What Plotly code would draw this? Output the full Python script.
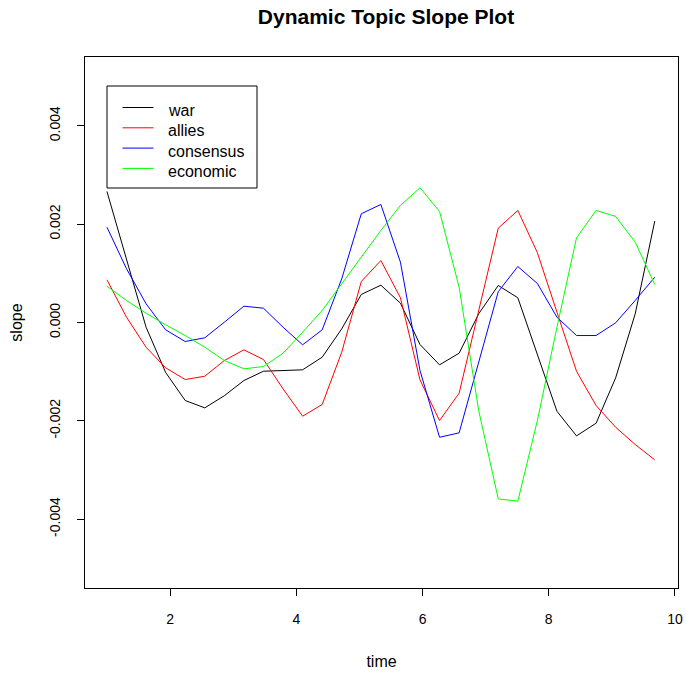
import plotly.graph_objects as go

time = [1.00, 1.31, 1.62, 1.93, 2.24, 2.55, 2.86, 3.17, 3.48, 3.79,
        4.10, 4.41, 4.72, 5.03, 5.34, 5.65, 5.96, 6.27, 6.58, 6.89,
        7.20, 7.51, 7.82, 8.13, 8.44, 8.75, 9.06, 9.37, 9.68]

war = [0.002665, 0.001302, -0.000096, -0.001017, -0.001587, -0.001736, -0.001489, -0.001180, -0.000991, -0.000977,
       -0.000962, -0.000706, -0.000129, 0.000570, 0.000759, 0.000393, -0.000448, -0.000861, -0.000624, 0.000177,
       0.000753, 0.000503, -0.000651, -0.001805, -0.002306, -0.002049, -0.001126, 0.000177, 0.002062]

allies = [0.000869, 0.000108, -0.000503, -0.000922, -0.001160, -0.001093, -0.000773, -0.000556, -0.000753, -0.001349,
          -0.001906, -0.001668, -0.000604, 0.000834, 0.001261, 0.000503, -0.001166, -0.001994, -0.001438, 0.000244,
          0.001919, 0.002279, 0.001420, 0.000210, -0.000991, -0.001689, -0.002130, -0.002482, -0.002794]

consensus = [0.001939, 0.001093, 0.000380, -0.000149, -0.000387, -0.000311, 0.000006, 0.000332, 0.000291, -0.000096,
             -0.000454, -0.000149, 0.000889, 0.002212, 0.002401, 0.001227, -0.000977, -0.002334, -0.002244, -0.000820,
             0.000627, 0.001139, 0.000793, 0.000108, -0.000265, -0.000265, -0.000006, 0.000448, 0.000922]

economic = [0.000739, 0.000448, 0.000189, -0.000047, -0.000265, -0.000503, -0.000773, -0.000942, -0.000895, -0.000624,
            -0.000197, 0.000244, 0.000787, 0.001329, 0.001872, 0.002381, 0.002740, 0.002258, 0.000718, -0.001790,
            -0.003587, -0.003635, -0.001994, -0.000096, 0.001723, 0.002279, 0.002157, 0.001634, 0.000773]

series_names = ["war", "allies", "consensus", "economic"]
series_values = [war, allies, consensus, economic]
series_colors = ["#000000", "#FF0000", "#0000FF", "#00FF00"]

x_ticks = [2, 4, 6, 8, 10]
y_ticks = [-0.004, -0.002, 0.0, 0.002, 0.004]
y_tick_labels = ["-0.004", "-0.002", "0.000", "0.002", "0.004"]

FONT = "Liberation Sans, Arial, sans-serif"

W, H = 686, 673
L, R, T, B = 85, 8, 57, 85
PW, PH = W - L - R, H - T - B


def px_x(px):
    return (px - L) / PW


def px_y(py):
    return (H - B - py) / PH


fig = go.Figure()
for name, vals, col in zip(series_names, series_values, series_colors):
    fig.add_trace(go.Scatter(x=time, y=vals, mode="lines", name=name,
                             line=dict(color=col, width=1), showlegend=False,
                             hoverinfo="skip"))

# legend box (R-style) drawn in paper coordinates
shapes = [dict(type="rect", xref="paper", yref="paper",
               x0=px_x(107), x1=px_x(257), y0=px_y(188), y1=px_y(86),
               line=dict(color="black", width=1), fillcolor="white", layer="above")]
annotations = []
for i, (name, col) in enumerate(zip(series_names, series_colors)):
    ry = 107.5 + 20.3 * i
    shapes.append(dict(type="line", xref="paper", yref="paper",
                       x0=px_x(122.5), x1=px_x(153.5), y0=px_y(ry), y1=px_y(ry),
                       line=dict(color=col, width=1), layer="above"))
    annotations.append(dict(text=name, xref="paper", yref="paper",
                            x=px_x(166), y=px_y(ry + 3), xanchor="left", yanchor="middle",
                            showarrow=False, font=dict(family=FONT, size=16, color="black")))

fig.update_layout(
    width=W, height=H,
    margin=dict(l=L, r=R, t=T, b=B, autoexpand=False),
    paper_bgcolor="white", plot_bgcolor="white",
    font=dict(family=FONT, size=14, color="black"),
    title=dict(text="<b>Dynamic Topic Slope Plot</b>", x=386 / W, xanchor="center",
               y=1 - 17 / H, yanchor="middle",
               font=dict(family=FONT, size=21, color="black")),
    showlegend=False,
    shapes=shapes,
    annotations=annotations,
)

fig.update_xaxes(range=[0.652, 10.048], tickvals=x_ticks, ticktext=[str(v) for v in x_ticks],
                 showgrid=False, zeroline=False, showline=True, linecolor="black", linewidth=1,
                 mirror=True, ticks="outside", ticklen=7, tickcolor="black",
                 ticklabelstandoff=11, automargin=False,
                 tickfont=dict(family=FONT, size=14),
                 title=dict(text="time", standoff=30, font=dict(family=FONT, size=16)))
fig.update_yaxes(range=[-0.0054, 0.0054], tickvals=y_ticks, ticktext=y_tick_labels,
                 showgrid=False, zeroline=False, showline=True, linecolor="black", linewidth=1,
                 mirror=True, ticks="outside", ticklen=7, tickcolor="black",
                 tickangle=-90, ticklabelstandoff=11, automargin=False,
                 tickfont=dict(family=FONT, size=14),
                 title=dict(text="slope", standoff=20, font=dict(family=FONT, size=16)))

fig.write_html("out.html", config={"displayModeBar": False, "staticPlot": True},
               post_script="document.body.style.margin='0';document.body.style.padding='0';")
